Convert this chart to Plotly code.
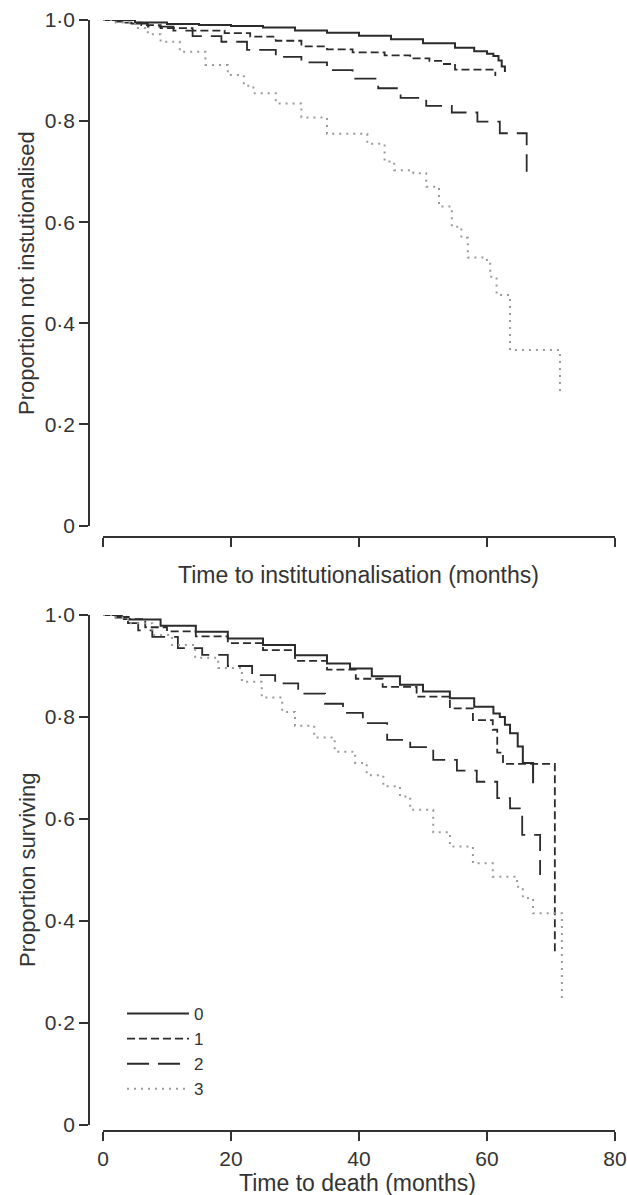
import plotly.graph_objects as go

# ---------------- data ----------------
groups = ["0", "1", "2", "3"]

# Panel A: time to institutionalisation
inst_m0 = [0, 5, 10, 15, 20, 25, 30, 35, 40, 45, 50, 55, 58, 60, 61, 61.8, 62.3, 62.8]
inst_p0 = [1.0, 0.995, 0.992, 0.99, 0.988, 0.985, 0.979, 0.975, 0.969, 0.962, 0.954, 0.945, 0.938, 0.933, 0.929, 0.92, 0.908, 0.897]

inst_m1 = [0, 3, 6, 9, 14, 19, 23, 27, 31, 35, 39, 44, 48, 51, 53, 55, 61.3]
inst_p1 = [1.0, 0.995, 0.99, 0.984, 0.979, 0.974, 0.967, 0.959, 0.948, 0.942, 0.936, 0.93, 0.924, 0.919, 0.913, 0.902, 0.889]

inst_m2 = [0, 2, 4, 7, 11, 14, 18.5, 22.5, 27, 31, 35, 39, 43, 46.5, 50.5, 54.5, 58.5, 62, 66.2]
inst_p2 = [1.0, 0.997, 0.993, 0.987, 0.979, 0.968, 0.957, 0.941, 0.927, 0.916, 0.901, 0.884, 0.865, 0.846, 0.83, 0.817, 0.799, 0.776, 0.70]

inst_m3 = [0, 2, 5, 7, 9, 12, 16, 19.5, 22, 23.5, 27, 31, 35, 41.3, 44, 45.5, 48.5, 50.5, 52.5, 54.5, 56, 57, 59.5, 60.5, 61.5, 63.6, 71.4]
inst_p3 = [1.0, 0.995, 0.984, 0.972, 0.957, 0.937, 0.911, 0.891, 0.87, 0.855, 0.835, 0.807, 0.775, 0.755, 0.72, 0.703, 0.697, 0.67, 0.631, 0.591, 0.569, 0.53, 0.525, 0.492, 0.456, 0.347, 0.265]

# Panel B: time to death
death_m0 = [0, 2, 4, 9, 14.5, 19.5, 25, 30, 35, 38.6, 42, 46.4, 50, 54.2, 58, 61, 62, 62.8, 63.6, 64.8, 65.6, 67.2]
death_p0 = [1.0, 0.996, 0.991, 0.979, 0.967, 0.954, 0.941, 0.921, 0.905, 0.895, 0.88, 0.863, 0.85, 0.837, 0.82, 0.807, 0.80, 0.785, 0.768, 0.742, 0.71, 0.67]

death_m1 = [0, 3, 6.6, 10, 14.5, 19.5, 25, 30, 35, 39.5, 43.7, 49, 54.2, 57.8, 60.9, 61.6, 62.5, 70.6]
death_p1 = [1.0, 0.992, 0.976, 0.968, 0.958, 0.945, 0.931, 0.91, 0.893, 0.875, 0.859, 0.84, 0.817, 0.794, 0.775, 0.73, 0.708, 0.333]

death_m2 = [0, 2, 3.9, 5.5, 7.7, 11.7, 15.5, 19.5, 23.3, 26.9, 30.5, 34.7, 37.5, 40.6, 44.4, 48, 51.6, 55.3, 58.4, 61.6, 63.6, 65.5, 68.3]
death_p2 = [1.0, 0.995, 0.984, 0.97, 0.957, 0.935, 0.922, 0.9, 0.882, 0.866, 0.846, 0.826, 0.808, 0.788, 0.755, 0.741, 0.716, 0.695, 0.673, 0.641, 0.621, 0.569, 0.49]

death_m3 = [0, 2, 3.9, 7.7, 10.8, 14.4, 18, 21.7, 24.8, 28, 30, 33, 36.2, 39.4, 41.2, 43.8, 46.4, 48, 51.6, 54.2, 57.8, 60.9, 64.7, 65.6, 67.2, 71.7]
death_p3 = [1.0, 0.995, 0.984, 0.961, 0.941, 0.916, 0.896, 0.869, 0.838, 0.81, 0.783, 0.76, 0.732, 0.71, 0.686, 0.664, 0.644, 0.618, 0.574, 0.546, 0.513, 0.487, 0.467, 0.445, 0.415, 0.24]

x_ticks = [0, 20, 40, 60, 80]
y_ticks = [0, 0.2, 0.4, 0.6, 0.8, 1.0]
y_ticktext = ["0", "0·2", "0·4", "0·6", "0·8", "1·0"]

inst_title_x = "Time to institutionalisation (months)"
inst_title_y = "Proportion not instutionalised"
death_title_x = "Time to death (months)"
death_title_y = "Proportion surviving"

# ---------------- styles ----------------
styles = [
    dict(color="#2b2b2b", width=2.0, dash="solid"),
    dict(color="#2b2b2b", width=1.8, dash="8px,4px"),
    dict(color="#2b2b2b", width=1.8, dash="22px,9px"),
    dict(color="#9a9a9a", width=2.0, dash="2px,5px"),
]
FONT = "Liberation Sans, Arial, sans-serif"
TXT = "#333333"
TITLE_SIZE = 23
TICK_SIZE = 21

W, H = 627, 1195
def px(x):
    return x / W
def py(y):
    return 1 - y / H

fig = go.Figure()

inst = [(inst_m0, inst_p0), (inst_m1, inst_p1), (inst_m2, inst_p2), (inst_m3, inst_p3)]
death = [(death_m0, death_p0), (death_m1, death_p1), (death_m2, death_p2), (death_m3, death_p3)]

for g, (m, p), st in zip(groups, inst, styles):
    fig.add_trace(go.Scatter(x=m, y=p, mode="lines", line=dict(shape="hv", **st),
                             name=g, showlegend=False, xaxis="x", yaxis="y",
                             hoverinfo="skip"))
for g, (m, p), st in zip(groups, death, styles):
    fig.add_trace(go.Scatter(x=m, y=p, mode="lines", line=dict(shape="hv", **st),
                             name=g, showlegend=True, xaxis="x2", yaxis="y2",
                             hoverinfo="skip"))

xdom = [px(103), px(615)]
common_x = dict(range=[0, 80], domain=xdom, tickvals=x_ticks, ticks="outside",
                ticklen=9, tickwidth=1.5, tickcolor=TXT, showline=True,
                linecolor=TXT, linewidth=1.5, showgrid=False, zeroline=False,
                anchor="free", fixedrange=True, automargin=False)
common_y = dict(range=[0, 1.0], tickvals=y_ticks, ticktext=y_ticktext,
                ticks="outside", ticklen=9, tickwidth=1.5, tickcolor=TXT,
                showline=True, linecolor=TXT, linewidth=1.5, showgrid=False,
                zeroline=False, anchor="free", position=px(89), fixedrange=True,
                automargin=False,
                tickfont=dict(size=TICK_SIZE, color=TXT, family=FONT))

fig.update_layout(
    template="none",
    width=W, height=H,
    autosize=False,
    margin=dict(l=0, r=0, t=0, b=0, pad=0, autoexpand=False),
    paper_bgcolor="white", plot_bgcolor="white",
    font=dict(family=FONT, color=TXT, size=20),
    xaxis=dict(common_x, position=py(537), showticklabels=False),
    yaxis=dict(common_y, domain=[py(525.5), py(20)]),
    xaxis2=dict(common_x, position=py(1131), showticklabels=True,
                tickfont=dict(size=TICK_SIZE, color=TXT, family=FONT)),
    yaxis2=dict(common_y, domain=[py(1125), py(615)]),
    showlegend=True,
    legend=dict(x=px(122), y=py(996), xanchor="left", yanchor="top",
                bgcolor="rgba(0,0,0,0)", borderwidth=0, itemwidth=62,
                font=dict(size=17, color=TXT, family=FONT),
                tracegroupgap=0),
    annotations=[
        dict(text=inst_title_x, x=px(358), y=py(575), xref="paper", yref="paper",
             showarrow=False, font=dict(size=TITLE_SIZE, color=TXT, family=FONT),
             xanchor="center", yanchor="middle"),
        dict(text=inst_title_y, x=px(27), y=py(273), xref="paper", yref="paper",
             showarrow=False, textangle=-90, font=dict(size=TITLE_SIZE - 1, color=TXT, family=FONT),
             xanchor="center", yanchor="middle"),
        dict(text=death_title_x, x=px(357), y=py(1183), xref="paper", yref="paper",
             showarrow=False, font=dict(size=TITLE_SIZE, color=TXT, family=FONT),
             xanchor="center", yanchor="middle"),
        dict(text=death_title_y, x=px(27), y=py(870), xref="paper", yref="paper",
             showarrow=False, textangle=-90, font=dict(size=TITLE_SIZE - 1, color=TXT, family=FONT),
             xanchor="center", yanchor="middle"),
    ],
)

fig.write_html("out.html", config={"displayModeBar": False},
               post_script="document.body.style.margin='0';")
